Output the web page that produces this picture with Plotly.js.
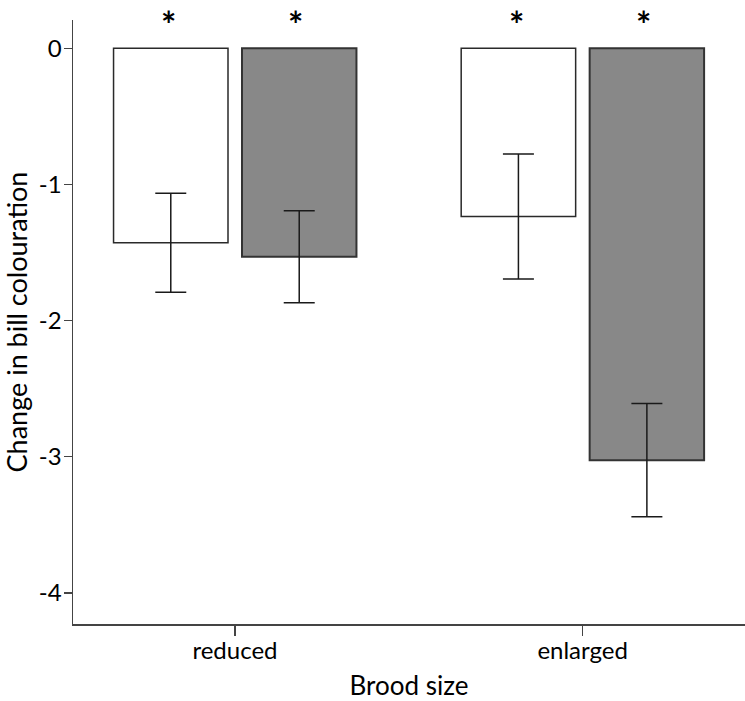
<!DOCTYPE html>
<html>
<head>
<meta charset="utf-8">
<script src="https://cdn.plot.ly/plotly-3.0.1.min.js"></script>
<style>html,body{margin:0;padding:0;background:#fff;}#chart{width:745px;height:701px;}</style>
</head>
<body>
<div id="chart"></div>
<script>
// Data
var categories = ['reduced', 'enlarged'];
var whiteValues = [-1.428, -1.235];
var whiteErrors = [0.364, 0.459];
var greyValues = [-1.531, -3.026];
var greyErrors = [0.338, 0.416];
var sigLabels = ['*', '*'];
var yTickVals = [0, -1, -2, -3, -4];
var yTickText = ['0', '-1', '-2', '-3', '-4'];

var FONT = 'Lato, "Open Sans", sans-serif';

var traces = [
  {
    type: 'bar', x: categories, y: whiteValues, name: 'white',
    marker: {color: '#ffffff', line: {color: '#2a2a2a', width: 1.5}},
    error_y: {type: 'data', array: whiteErrors, visible: true, color: '#1a1a1a', thickness: 1.5, width: 15.5}
  },
  {
    type: 'bar', x: categories, y: greyValues, name: 'grey',
    marker: {color: '#888888', line: {color: '#333333', width: 2}},
    error_y: {type: 'data', array: greyErrors, visible: true, color: '#1a1a1a', thickness: 1.5, width: 15.5}
  }
];

var annotations = [];
for (var i = 0; i < categories.length; i++) {
  [-0.19, 0.175].forEach(function (off) {
    annotations.push({
      xref: 'x', yref: 'paper', x: i + off, y: 1.032, yanchor: 'top',
      text: '<b>' + sigLabels[i] + '</b>', showarrow: false, borderpad: 0,
      font: {family: FONT, size: 36, color: '#000'}
    });
  });
}

var layout = {
  width: 745, height: 701,
  margin: {l: 73, r: 0, t: 20, b: 76.5},
  paper_bgcolor: '#ffffff', plot_bgcolor: '#ffffff',
  showlegend: false,
  barmode: 'group', bargap: 0.261, bargroupgap: 0.109,
  font: {family: FONT, color: '#000'},
  xaxis: {
    type: 'category', range: [-0.466, 1.467],
    showline: true, linecolor: '#444', linewidth: 1.5,
    ticks: 'outside', ticklen: 10, tickcolor: '#444', tickwidth: 1.5,
    showgrid: false, zeroline: false, ticklabelstandoff: -5,
    tickfont: {family: FONT, size: 24, color: '#000'},
    title: {text: 'Brood size', font: {family: FONT, size: 26, color: '#000'}, standoff: 23}
  },
  yaxis: {
    range: [-4.229, 0.208],
    tickvals: yTickVals, ticktext: yTickText,
    showline: true, linecolor: '#444', linewidth: 1.5,
    ticks: 'outside', ticklen: 8, tickcolor: '#444', tickwidth: 1.5,
    showgrid: false, zeroline: false, ticklabelstandoff: -3,
    tickfont: {family: FONT, size: 24, color: '#000'},
    title: {text: 'Change in bill colouration', font: {family: FONT, size: 27, color: '#000'}, standoff: 8}
  },
  annotations: annotations
};

Plotly.newPlot('chart', traces, layout, {displayModeBar: false, staticPlot: true});
</script>
</body>
</html>
